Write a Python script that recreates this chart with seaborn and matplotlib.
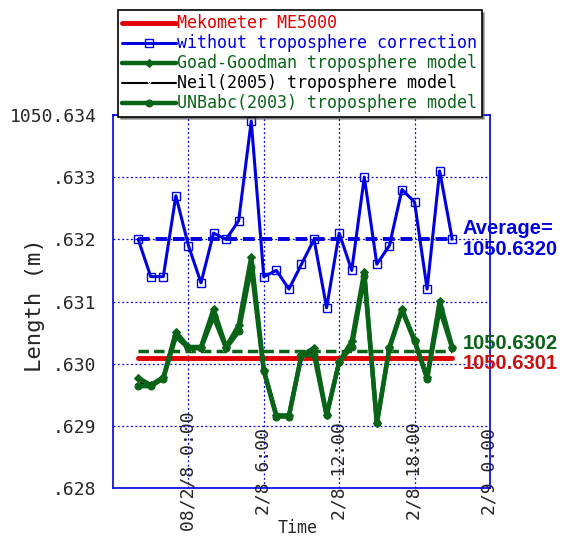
import seaborn as sns
import matplotlib.pyplot as plt

# hours relative to 2008/2/8 0:00
hours = list(range(-4, 22))
no_tropo = [1050.6320, 1050.6314, 1050.6314, 1050.6327, 1050.6319, 1050.6313, 1050.6321, 1050.6320,
            1050.6323, 1050.6339, 1050.6314, 1050.6315, 1050.6312, 1050.6316, 1050.6320, 1050.6309,
            1050.6321, 1050.6315, 1050.6330, 1050.6316, 1050.6319, 1050.6328, 1050.6326, 1050.6312,
            1050.6331, 1050.6320]
goad = [1050.62977, 1050.62966, 1050.62978, 1050.63051, 1050.63027, 1050.63027, 1050.63088, 1050.63027,
        1050.63062, 1050.63172, 1050.62990, 1050.62917, 1050.62917, 1050.63014, 1050.63025, 1050.62917,
        1050.63003, 1050.63036, 1050.63148, 1050.62904, 1050.63027, 1050.63088, 1050.63038, 1050.62978,
        1050.63101, 1050.63027]
neil = [1050.62970, 1050.62965, 1050.62977, 1050.63048, 1050.63026, 1050.63026, 1050.63082, 1050.63026,
        1050.63057, 1050.63164, 1050.62989, 1050.62916, 1050.62916, 1050.63014, 1050.63020, 1050.62917,
        1050.63003, 1050.63032, 1050.63145, 1050.62904, 1050.63026, 1050.63087, 1050.63037, 1050.62977,
        1050.63095, 1050.63026]
unb = [1050.62964, 1050.62964, 1050.62976, 1050.63044, 1050.63025, 1050.63025, 1050.63076, 1050.63025,
       1050.63052, 1050.63156, 1050.62988, 1050.62915, 1050.62915, 1050.63014, 1050.63014, 1050.62917,
       1050.63003, 1050.63027, 1050.63141, 1050.62904, 1050.63025, 1050.63086, 1050.63036, 1050.62976,
       1050.63088, 1050.63025]
mekometer = 1050.6301
avg_blue = 1050.6320
avg_green = 1050.6302

xticks = [0, 6, 12, 18, 24]
xtick_labels = ['08/2/8 0:00', '2/8 6:00', '2/8 12:00', '2/8 18:00', '2/9 0:00']
yticks = [1050.628, 1050.629, 1050.630, 1050.631, 1050.632, 1050.633, 1050.634]
ytick_labels = ['.628', '.629', '.630', '.631', '.632', '.633', '1050.634']

sns.set_style('white')
plt.rcParams['font.family'] = ['DejaVu Sans Mono']

fig = plt.figure(figsize=(5.71, 5.37), dpi=100)
ax = fig.add_axes([0.198, 0.091, 0.660, 0.695])

blue = '#0000e0'
green = '#0a6418'
red = '#e00000'

# Mekometer reference
ax.plot([hours[0], hours[-1]], [mekometer, mekometer], color=red, lw=3.5, zorder=3,
        label='Mekometer ME5000')
sns.lineplot(x=hours, y=no_tropo, ax=ax, color=blue, lw=2.2, marker='s', markersize=6,
             markerfacecolor='none', markeredgecolor=blue, markeredgewidth=1.0,
             estimator=None, label='without troposphere correction', zorder=4)
ax.plot([hours[0], hours[-1]], [avg_blue, avg_blue], color=blue, lw=2.8, ls=(0, (3, 1.5)), zorder=3)
sns.lineplot(x=hours, y=goad, ax=ax, color=green, lw=3.2, marker='D', markersize=4,
             markeredgecolor=green, estimator=None, label='Goad-Goodman troposphere model', zorder=5)
sns.lineplot(x=hours, y=neil, ax=ax, color='black', lw=1.5, marker='x', markersize=5,
             estimator=None, label='Neil(2005) troposphere model', zorder=4)
sns.lineplot(x=hours, y=unb, ax=ax, color=green, lw=3.2, marker='o', markersize=5,
             markeredgecolor=green, estimator=None, label='UNBabc(2003) troposphere model', zorder=5)
ax.plot([hours[0], hours[-1]], [avg_green, avg_green], color=green, lw=2.5, ls=(0, (3, 1.5)), zorder=3)

ax.set_xlim(-6, 24)
ax.set_ylim(1050.628, 1050.634)
ax.set_xticks(xticks)
ax.set_xticklabels(xtick_labels, rotation=90, va='center', fontsize=13)
ax.tick_params(axis='x', length=0, pad=-12)
ax.set_yticks(yticks)
ax.set_yticklabels(ytick_labels, fontsize=13)
ax.tick_params(axis='y', length=0, pad=12)
ax.grid(True, color=blue, ls=(0, (1.5, 2)), lw=0.9)
for s in ax.spines.values():
    s.set_color(blue)
    s.set_linewidth(1.2)

ax.set_xlabel('Time', fontsize=12)
ax.xaxis.set_label_coords(0.49, -0.083)
ax.set_ylabel('Length (m)', fontsize=16)
ax.yaxis.set_label_coords(-0.18, 0.49)

tfont = dict(family='Liberation Sans', fontweight='bold', fontsize=14.5)
ax.text(21.8, 1050.63218, 'Average=', color=blue, va='center', **tfont)
ax.text(21.8, 1050.63183, '1050.6320', color=blue, va='center', **tfont)
ax.text(21.8, 1050.63033, '1050.6302', color=green, va='center', **tfont)
ax.text(21.8, 1050.63000, '1050.6301', color='#cc1010', va='center', **tfont)

ax.get_legend().remove()
h, l = ax.get_legend_handles_labels()
leg = fig.legend(h, l, loc='upper left', bbox_to_anchor=(0.207, 0.981), bbox_transform=fig.transFigure,
                 borderaxespad=0, fontsize=12, handlelength=3.2, handletextpad=0.1,
                 labelspacing=0.12, borderpad=0.25, fancybox=False, shadow=True, framealpha=1,
                 edgecolor='black')
leg.get_frame().set_linewidth(1.2)
for txt, c in zip(leg.get_texts(), [red, blue, green, 'black', green]):
    txt.set_color(c)

fig.savefig('out.png', dpi=100)
